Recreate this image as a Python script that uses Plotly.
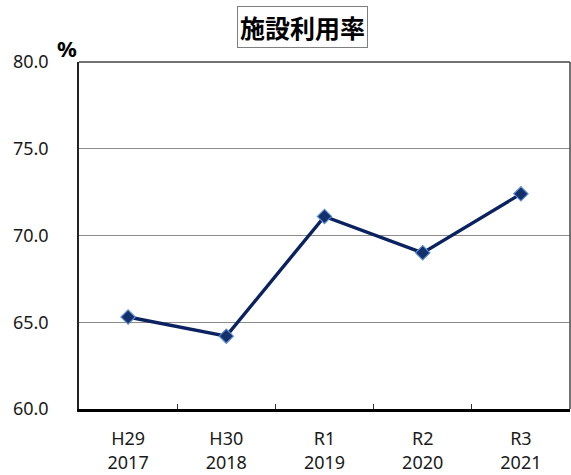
import plotly.graph_objects as go

# Facility utilisation rate by fiscal year
era_labels = ["H29", "H30", "R1", "R2", "R3"]
years = ["2017", "2018", "2019", "2020", "2021"]
rates = [65.3, 64.2, 71.1, 69.0, 72.4]

categories = [f"{e}<br>{y}" for e, y in zip(era_labels, years)]
y_ticks = [60.0, 65.0, 70.0, 75.0, 80.0]

fig = go.Figure()
fig.add_trace(go.Scatter(
    x=categories,
    y=rates,
    mode="lines+markers",
    line=dict(color="#0a2260", width=3.4),
    marker=dict(symbol="diamond", size=11, color="#12306b",
                line=dict(color="#5b8bd0", width=1.2)),
    hoverinfo="x+y",
))

fig.update_layout(
    width=571, height=475,
    margin=dict(l=79, r=1, t=62, b=64),
    paper_bgcolor="white",
    plot_bgcolor="white",
    showlegend=False,
    font=dict(family="Noto Sans, Liberation Sans, sans-serif", color="#1a1a1a"),
    xaxis=dict(
        type="category",
        range=[-0.5, 4.5],
        tickson="boundaries",
        ticks="inside",
        ticklen=5,
        tickwidth=1,
        tickcolor="#333333",
        showgrid=False,
        showline=True,
        linecolor="#000000",
        linewidth=2.5,
        tickfont=dict(size=18),
        ticklabelstandoff=12,
    ),
    yaxis=dict(
        range=[60, 80],
        tickvals=y_ticks,
        ticktext=[f"{v:.1f}" for v in y_ticks],
        showgrid=True,
        gridcolor="#8c8c8c",
        gridwidth=1,
        zeroline=False,
        showline=True,
        linecolor="#222222",
        linewidth=1.5,
        ticks="",
        tickfont=dict(size=18),
        ticklabelstandoff=25,
    ),
    shapes=[
        dict(type="line", xref="paper", yref="paper", x0=0, x1=1, y0=1, y1=1,
             line=dict(color="#444444", width=1.5)),
        dict(type="line", xref="paper", yref="paper", x0=1, x1=1, y0=0, y1=1,
             line=dict(color="#444444", width=1.5)),
    ],
    annotations=[
        dict(text="<b>施設利用率</b>", xref="paper", yref="paper",
             x=(302 - 79) / 491, y=1 + (62 - 27) / 349,
             xanchor="center", yanchor="middle", showarrow=False,
             font=dict(family="Noto Sans CJK JP", size=25, color="#000000"),
             bordercolor="#7f7f7f", borderwidth=1, borderpad=2,
             bgcolor="white"),
        dict(text="<b>%</b>", xref="paper", yref="paper",
             x=(67 - 79) / 491, y=1 + (62 - 48) / 349,
             xanchor="center", yanchor="middle", showarrow=False,
             font=dict(family="Noto Sans", size=22, color="#000000")),
    ],
)

fig.write_html("out.html")
